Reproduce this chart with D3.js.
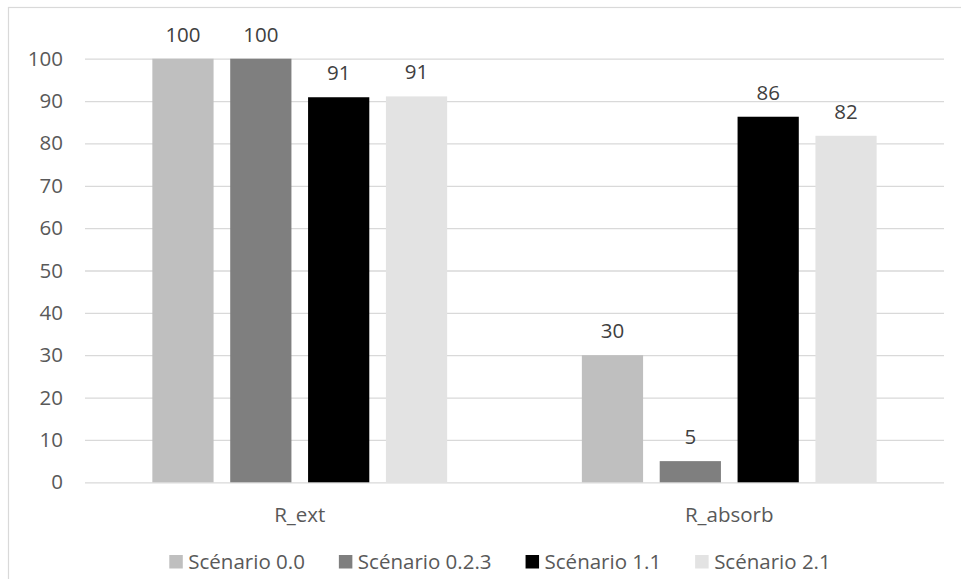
<!DOCTYPE html>
<html><head><meta charset="utf-8">
<script src="https://cdn.jsdelivr.net/npm/d3@7"></script>
<style>html,body{margin:0;padding:0;background:#fff;}svg{display:block;font-family:"Open Sans",sans-serif;}</style>
</head><body>
<svg id="c" width="961" height="579"></svg>
<script>
const categories = ["R_ext", "R_absorb"];
const seriesNames = ["Scénario 0.0", "Scénario 0.2.3", "Scénario 1.1", "Scénario 2.1"];
const valuesS00 = [100, 30];
const valuesS023 = [100, 5];
const valuesS11 = [90.9, 86.3];
const valuesS21 = [91.1, 81.8];
const colors = ["#bfbfbf", "#7f7f7f", "#000000", "#e3e3e3"];
const yTicks = [0, 10, 20, 30, 40, 50, 60, 70, 80, 90, 100];
const values = {
  "Scénario 0.0": valuesS00,
  "Scénario 0.2.3": valuesS023,
  "Scénario 1.1": valuesS11,
  "Scénario 2.1": valuesS21
};

const svg = d3.select("#c");
const pLeft = 85, pRight = 944, pTop = 58.7, pBottom = 482.3;
const textColor = "#595959";
const fs = 20.5;
const ff = "'Open Sans', sans-serif";

svg.append("rect").attr("x", 8.5).attr("y", 7.5).attr("width", 970).attr("height", 590)
  .attr("fill", "#fff").attr("stroke", "#d9d9d9").attr("stroke-width", 1.2);

const y = d3.scaleLinear().domain([0, 100]).range([pBottom, pTop]);
const x0 = d3.scaleBand().domain(categories).range([pLeft, pRight]).padding(0);
const x1 = d3.scaleBand().domain(seriesNames).range([-147.4, 147.4]).paddingInner(0.2136).paddingOuter(0);
const color = d3.scaleOrdinal().domain(seriesNames).range(colors);

// gridlines
const yAxis = d3.axisLeft(y).tickValues(yTicks).tickSize(-(pRight - pLeft)).tickFormat(d3.format("d")).tickPadding(22);
const gy = svg.append("g").attr("transform", `translate(${pLeft},0)`).call(yAxis);
gy.select(".domain").remove();
gy.selectAll(".tick line").attr("stroke", "#d9d9d9").attr("stroke-width", 1.3);
gy.selectAll(".tick text").attr("fill", textColor).style("font-size", fs + "px").style("font-family", ff);

// bars
const data = [];
categories.forEach((c, ci) => seriesNames.forEach(s => data.push({c, s, v: values[s][ci]})));
const barX = d => x0(d.c) + x0.bandwidth() / 2 + x1(d.s);
svg.append("g").selectAll("rect").data(data).join("rect")
  .attr("x", d => barX(d))
  .attr("width", x1.bandwidth())
  .attr("y", d => y(d.v))
  .attr("height", d => y(0) - y(d.v))
  .attr("fill", d => color(d.s));

// data labels
svg.append("g").selectAll("text").data(data).join("text")
  .attr("x", d => barX(d) + x1.bandwidth() / 2)
  .attr("y", d => y(d.v) - 17)
  .attr("text-anchor", "middle")
  .attr("fill", "#404040")
  .style("font-size", fs + "px")
  .style("font-family", ff)
  .text(d => Math.round(d.v));

// category axis
const xAxis = d3.axisBottom(x0).tickSize(0).tickPadding(25);
const gx = svg.append("g").attr("transform", `translate(0,${pBottom})`).call(xAxis);
gx.select(".domain").remove();
gx.selectAll(".tick text").attr("fill", textColor).style("font-size", fs + "px").style("font-family", ff);

// legend
const lg = svg.append("g");
const items = lg.selectAll("g").data(seriesNames).join("g");
items.append("rect").attr("width", 13.5).attr("height", 13.5).attr("y", -13.5).attr("fill", (d, i) => colors[i]);
items.append("text").attr("x", 19).attr("y", 0).attr("fill", textColor).style("font-size", fs + "px").style("font-family", ff).text(d => d);
let xpos = 0;
const gapItems = 34;
items.each(function () {
  const w = 19 + this.querySelector("text").getComputedTextLength();
  d3.select(this).attr("transform", `translate(${xpos},568.5)`);
  xpos += w + gapItems;
});
const totalW = xpos - gapItems;
lg.attr("transform", `translate(${500 - totalW / 2},0)`);
</script>
</body></html>
